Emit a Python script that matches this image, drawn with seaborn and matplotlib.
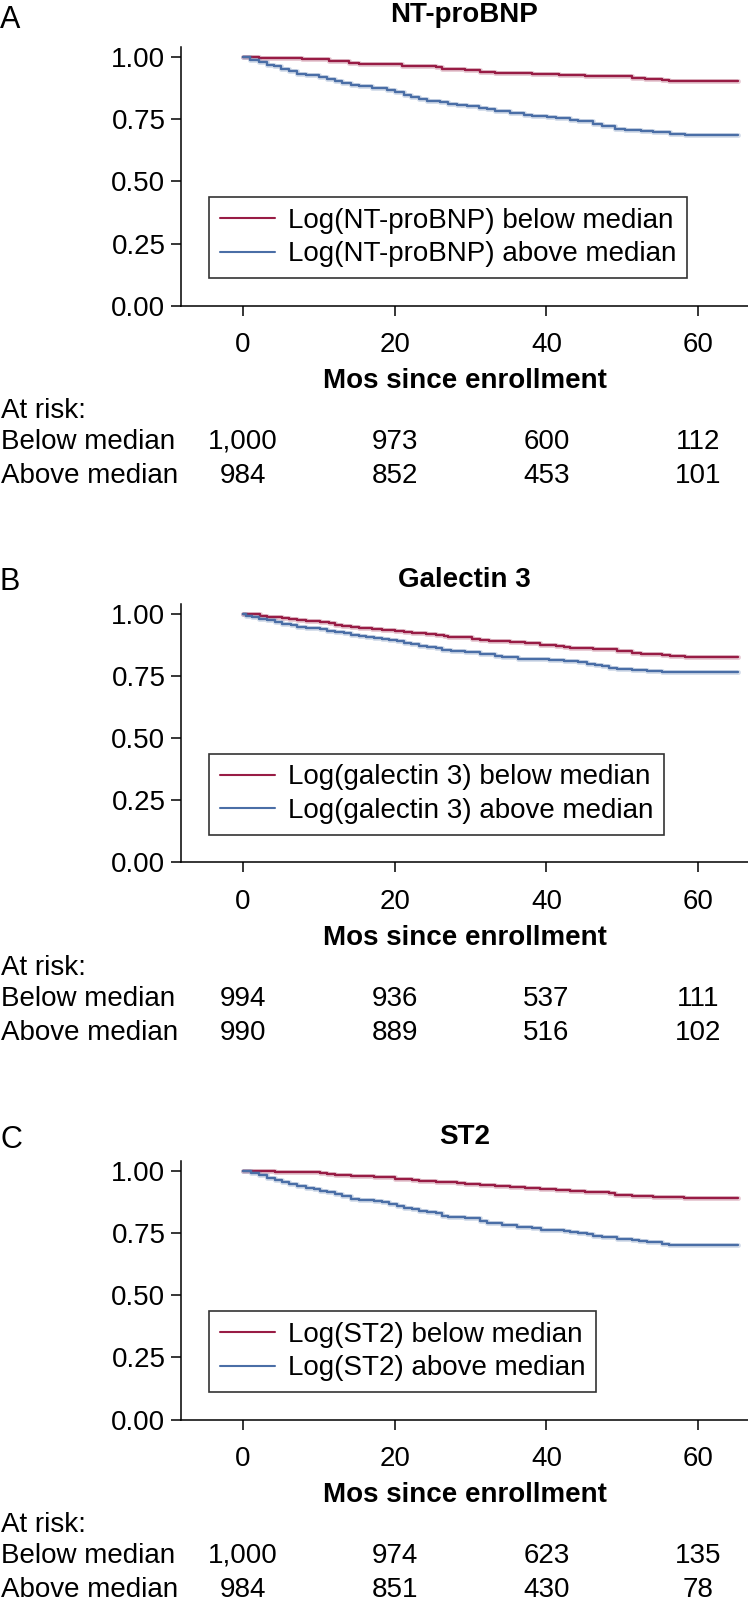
import numpy as np
import pandas as pd
import matplotlib
matplotlib.use('Agg')
import matplotlib.pyplot as plt
import matplotlib.transforms as mtransforms
import seaborn as sns

# Panel titles and legend labels
titles = ['NT-proBNP', 'Galectin 3', 'ST2']
letters = ['A', 'B', 'C']
below_labels = ['Log(NT-proBNP) below median', 'Log(galectin 3) below median', 'Log(ST2) below median']
above_labels = ['Log(NT-proBNP) above median', 'Log(galectin 3) above median', 'Log(ST2) above median']

# Kaplan-Meier steps (months, survival)
a_below_t = [0, 2.1, 7.8, 11.3, 14.0, 15.3, 21.0, 25.4, 26.3, 29.3, 31.3, 33.2, 36.1, 38.1, 41.6, 45.1,
             49.1, 51.3, 53.0, 55.2, 56.1, 65.3]
a_below_s = [1.0, 0.997, 0.992, 0.984, 0.979, 0.975, 0.967, 0.960, 0.953, 0.948, 0.942, 0.938, 0.936, 0.933,
             0.930, 0.925, 0.924, 0.917, 0.913, 0.909, 0.906, 0.906]
a_above_t = [0, 1.0, 2.1, 3.2, 4.1, 5.0, 6.1, 7.2, 8.3, 10.0, 11.1, 12.2, 13.1, 14.2, 15.3, 17.0, 19.0, 20.1,
             21.2, 22.1, 23.2, 24.3, 26.0, 27.1, 28.2, 29.6, 31.1, 32.2, 33.2, 35.2, 37.0, 38.1, 40.1, 41.2,
             43.1, 44.2, 46.2, 47.3, 49.1, 50.4, 52.4, 54.1, 56.3, 58.3, 65.3]
a_above_s = [1.0, 0.989, 0.980, 0.971, 0.964, 0.953, 0.944, 0.934, 0.930, 0.922, 0.913, 0.905, 0.897, 0.889,
             0.885, 0.876, 0.869, 0.861, 0.849, 0.842, 0.833, 0.826, 0.819, 0.813, 0.809, 0.803, 0.796, 0.790,
             0.783, 0.775, 0.768, 0.763, 0.758, 0.754, 0.747, 0.743, 0.733, 0.725, 0.712, 0.708, 0.704, 0.699,
             0.692, 0.688, 0.688]

b_below_t = [0, 2.3, 3.2, 5.2, 6.1, 7.2, 8.3, 10.2, 11.3, 12.2, 13.1, 14.2, 15.3, 17.0, 18.4, 20.1, 21.2,
             22.3, 24.1, 25.4, 26.5, 27.1, 30.2, 31.3, 32.4, 35.2, 37.2, 39.2, 41.2, 42.3, 43.1, 46.2, 49.3,
             51.3, 52.4, 54.3, 55.2, 56.3, 58.3, 65.3]
b_below_s = [1.0, 0.992, 0.988, 0.985, 0.981, 0.976, 0.972, 0.966, 0.962, 0.957, 0.953, 0.948, 0.944, 0.941,
             0.937, 0.933, 0.928, 0.924, 0.920, 0.914, 0.910, 0.906, 0.901, 0.897, 0.893, 0.887, 0.882, 0.877,
             0.873, 0.869, 0.863, 0.858, 0.853, 0.844, 0.840, 0.838, 0.834, 0.831, 0.826, 0.826]
b_above_t = [0, 0.4, 1.2, 2.1, 3.2, 4.2, 5.2, 6.3, 7.2, 8.3, 10.2, 11.1, 12.2, 13.3, 14.2, 15.3, 16.2, 17.3,
             18.4, 19.2, 20.3, 21.2, 22.1, 23.2, 24.3, 25.4, 26.3, 27.4, 29.3, 31.3, 33.2, 34.1, 36.3, 40.3,
             42.3, 44.2, 45.3, 46.4, 47.3, 48.2, 49.3, 51.3, 53.2, 55.2, 65.3]
b_above_s = [1.0, 0.994, 0.987, 0.979, 0.975, 0.966, 0.960, 0.954, 0.949, 0.945, 0.938, 0.933, 0.928, 0.922,
             0.917, 0.911, 0.907, 0.903, 0.899, 0.895, 0.891, 0.885, 0.879, 0.873, 0.867, 0.862, 0.855, 0.851,
             0.846, 0.839, 0.831, 0.826, 0.820, 0.815, 0.811, 0.807, 0.799, 0.793, 0.789, 0.784, 0.780, 0.776,
             0.772, 0.765, 0.765]

c_below_t = [0, 1.2, 4.3, 7.2, 10.2, 11.1, 12.2, 14.2, 17.3, 18.4, 20.1, 22.3, 23.2, 25.4, 28.2, 29.3, 31.3,
             33.2, 35.2, 37.2, 39.2, 41.2, 43.1, 45.1, 48.2, 49.1, 51.3, 54.1, 58.1, 65.3]
c_below_s = [1.0, 0.999, 0.996, 0.995, 0.992, 0.988, 0.984, 0.980, 0.977, 0.975, 0.969, 0.964, 0.960, 0.956,
             0.952, 0.948, 0.944, 0.942, 0.937, 0.933, 0.929, 0.925, 0.921, 0.915, 0.911, 0.906, 0.901, 0.897,
             0.893, 0.893]
c_above_t = [0, 1.1, 2.1, 3.2, 4.2, 5.2, 6.1, 7.2, 8.3, 9.4, 10.2, 11.1, 12.2, 13.1, 14.2, 15.3, 17.3, 18.4,
             19.2, 20.3, 21.2, 22.3, 23.2, 24.3, 25.4, 26.3, 27.1, 29.3, 31.3, 32.2, 34.1, 36.1, 38.1, 39.3,
             41.2, 42.3, 43.1, 44.2, 45.3, 46.2, 47.3, 49.3, 51.3, 52.2, 53.2, 55.2, 56.1, 65.3]
c_above_s = [1.0, 0.993, 0.983, 0.972, 0.964, 0.957, 0.949, 0.941, 0.934, 0.929, 0.922, 0.915, 0.907, 0.899,
             0.890, 0.883, 0.879, 0.875, 0.869, 0.860, 0.852, 0.846, 0.840, 0.836, 0.830, 0.820, 0.815, 0.810,
             0.800, 0.791, 0.784, 0.777, 0.771, 0.765, 0.763, 0.759, 0.755, 0.751, 0.748, 0.740, 0.734, 0.729,
             0.725, 0.718, 0.713, 0.708, 0.701, 0.701]

# Numbers at risk
risk_times = [0, 20, 40, 60]
a_risk_below = [1000, 973, 600, 112]
a_risk_above = [984, 852, 453, 101]
b_risk_below = [994, 936, 537, 111]
b_risk_above = [990, 889, 516, 102]
c_risk_below = [1000, 974, 623, 135]
c_risk_above = [984, 851, 430, 78]

panels = [
    (a_below_t, a_below_s, a_above_t, a_above_s, a_risk_below, a_risk_above),
    (b_below_t, b_below_s, b_above_t, b_above_s, b_risk_below, b_risk_above),
    (c_below_t, c_below_s, c_above_t, c_above_s, c_risk_below, c_risk_above),
]

red = '#981c45'
blue = '#4a6ea6'

sns.set_style('ticks')
plt.rcParams['font.family'] = ['Liberation Sans', 'DejaVu Sans']
plt.rcParams['axes.edgecolor'] = 'black'
plt.rcParams['xtick.color'] = 'black'
plt.rcParams['ytick.color'] = 'black'
plt.rcParams['text.color'] = 'black'

W, H = 748, 1613
fig = plt.figure(figsize=(W / 100, H / 100), dpi=100)

fs = 20
ax_left, ax_right = 181, 748
ax_h = 258.2
bottoms = [305.6, 862.3, 1419.5]
title_off = [284, 275.6, 275.6]
letter_off = [277.3, 272, 272]


def fy(px):
    return 1 - px / H


for i, (bt, bs, at, as_, rb, ra) in enumerate(panels):
    b = bottoms[i]
    ax = fig.add_axes([ax_left / W, fy(b), (ax_right - ax_left) / W, ax_h / H])

    df = pd.DataFrame({'t': bt + at, 's': bs + as_,
                       'grp': [below_labels[i]] * len(bt) + [above_labels[i]] * len(at)})
    for lab, col in [(below_labels[i], red), (above_labels[i], blue)]:
        sub = df[df['grp'] == lab]
        sns.lineplot(data=sub, x='t', y='s', ax=ax, color=col, lw=3.6, alpha=0.22,
                     drawstyle='steps-post', estimator=None, sort=False, label='_nolegend_')
        sns.lineplot(data=sub, x='t', y='s', ax=ax, color=col, lw=1.7,
                     drawstyle='steps-post', estimator=None, sort=False, label=lab)

    ax.set_xlim(-8.14, 66.56)
    ax.set_ylim(0, 1.04)
    ax.set_xticks(risk_times)
    ax.set_yticks([0, 0.25, 0.5, 0.75, 1.0])
    ax.set_yticklabels(['0.00', '0.25', '0.50', '0.75', '1.00'])
    ax.tick_params(axis='both', labelsize=fs, length=7.2, width=1.1, direction='out')
    ax.tick_params(axis='x', pad=12)
    ax.tick_params(axis='y', pad=4)
    ax.set_xlabel('')
    ax.set_ylabel('')
    for sp in ['top', 'right']:
        ax.spines[sp].set_visible(False)
    for sp in ['left', 'bottom']:
        ax.spines[sp].set_linewidth(1.1)

    leg = ax.legend(loc='lower left', bbox_to_anchor=(0.050, 0.107), borderaxespad=0,
                    frameon=True, fancybox=False, edgecolor='black', fontsize=fs,
                    handlelength=2.0, handletextpad=0.45, labelspacing=0.28, borderpad=0.38)
    leg.get_frame().set_linewidth(1.2)
    for ln in leg.get_lines():
        ln.set_linewidth(1.5)

    # panel letter and title
    fig.text(0.0, fy(b - letter_off[i]), letters[i], fontsize=22, ha='left', va='baseline')
    xc = (ax_left + ax_right) / 2 / W
    fig.text(xc, fy(b - title_off[i]), titles[i], fontsize=fs, fontweight='bold',
             ha='center', va='baseline')
    fig.text(xc, fy(b + 82.7), 'Mos since enrollment', fontsize=fs, fontweight='bold',
             ha='center', va='baseline')

    # at-risk table
    trans = mtransforms.blended_transform_factory(ax.transData, fig.transFigure)
    fig.text(0.002, fy(b + 112.4), 'At risk:', fontsize=fs, ha='left', va='baseline')
    fig.text(0.002, fy(b + 143.4), 'Below median', fontsize=fs, ha='left', va='baseline')
    fig.text(0.002, fy(b + 177.4), 'Above median', fontsize=fs, ha='left', va='baseline')
    for t, n1, n2 in zip(risk_times, rb, ra):
        ax.text(t, fy(b + 143.4), f'{n1:,}', transform=trans, fontsize=fs, ha='center',
                va='baseline', clip_on=False)
        ax.text(t, fy(b + 177.4), f'{n2:,}', transform=trans, fontsize=fs, ha='center',
                va='baseline', clip_on=False)

fig.savefig('out.png', dpi=100)
